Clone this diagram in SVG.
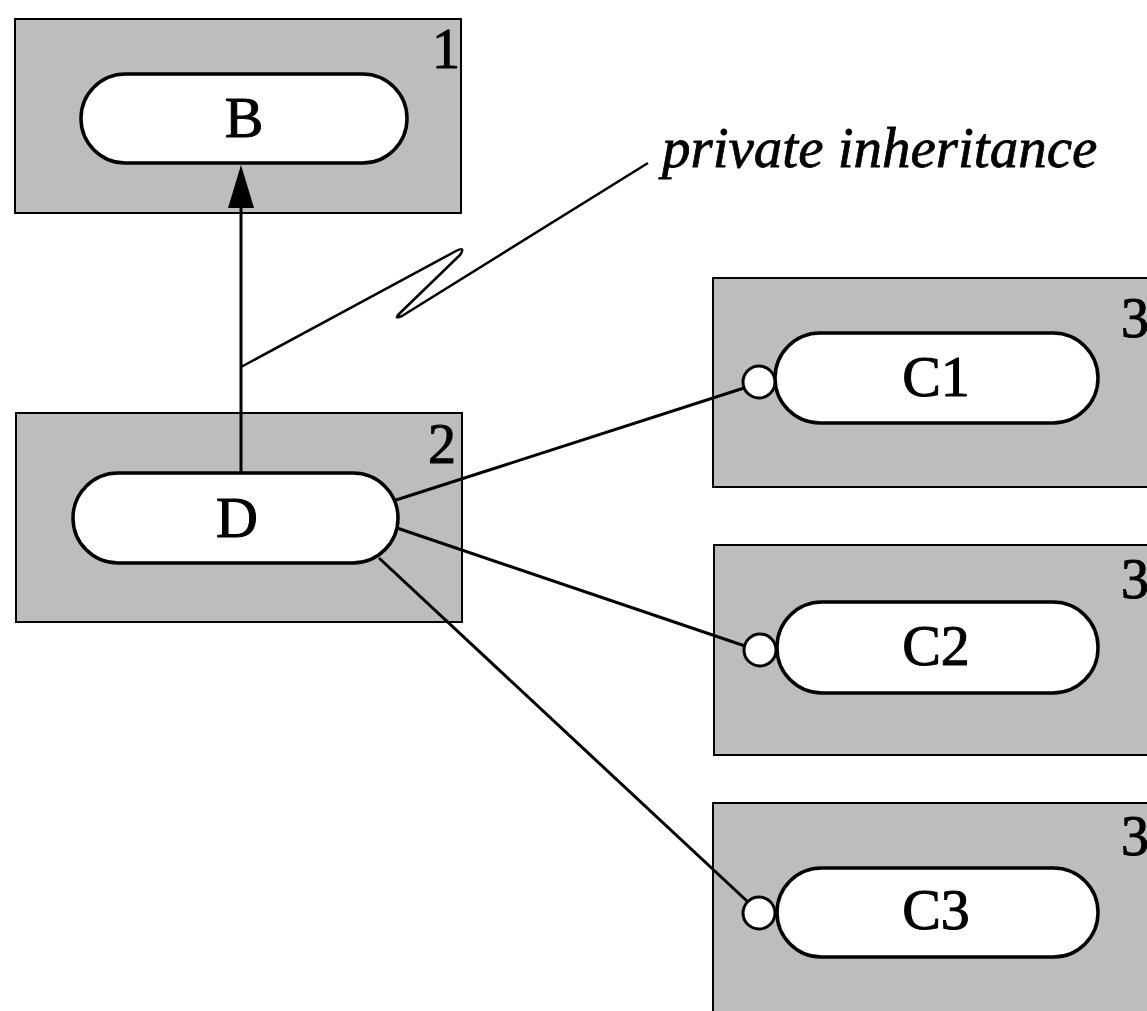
<svg xmlns="http://www.w3.org/2000/svg" width="1147" height="1011" viewBox="0 0 1147 1011">
<style>
.box{fill:#bdbdbd;stroke:#000;stroke-width:2}
.pill{fill:#fff;stroke:#000;stroke-width:3.5}
.port{fill:#fff;stroke:#000;stroke-width:3}
.lbl{font-family:"Liberation Serif",serif;font-size:58px;fill:#000;stroke:#000;stroke-width:1;text-anchor:middle}
.num{font-family:"Liberation Serif",serif;font-size:56px;fill:#000;stroke:#000;stroke-width:1}
.conn{fill:none;stroke:#000;stroke-width:3}
.note{fill:none;stroke:#000;stroke-width:2.5;stroke-linejoin:round}
.ital{font-family:"Liberation Serif",serif;font-style:italic;font-size:57px;fill:#000;stroke:#000;stroke-width:0.8}
</style>
<rect width="1147" height="1011" fill="#fff"/>
<g id="node-B">
<rect class="box" x="15" y="19" width="446" height="194"/>
<text class="num" x="432" y="68">1</text>
<rect class="pill" x="81" y="74" width="326" height="89" rx="44.5"/>
<text class="lbl" x="244" y="137">B</text>
</g>
<g id="node-D">
<rect class="box" x="16" y="413" width="446" height="209"/>
<text class="num" x="428" y="463">2</text>
<rect class="pill" x="73" y="473" width="325" height="90" rx="45"/>
<text class="lbl" x="237" y="537">D</text>
</g>
<g id="node-C1">
<rect class="box" x="713" y="278" width="450" height="209"/>
<text class="num" x="1121" y="337">3</text>
<rect class="pill" x="775" y="333" width="323" height="90" rx="45"/>
<circle class="port" cx="759" cy="382" r="16"/>
<text class="lbl" x="936" y="396">C1</text>
</g>
<g id="node-C2">
<rect class="box" x="714" y="545" width="450" height="210"/>
<text class="num" x="1121" y="598">3</text>
<rect class="pill" x="777" y="602" width="321" height="91" rx="45"/>
<circle class="port" cx="760" cy="650" r="16"/>
<text class="lbl" x="936" y="665">C2</text>
</g>
<g id="node-C3">
<rect class="box" x="713" y="803" width="450" height="220"/>
<text class="num" x="1121" y="855">3</text>
<rect class="pill" x="777" y="868" width="321" height="89" rx="44.5"/>
<circle class="port" cx="759" cy="913" r="16"/>
<text class="lbl" x="936" y="929">C3</text>
</g>
<g id="connectors">
<line class="conn" x1="241" y1="473" x2="241" y2="205"/>
<polygon points="241,165 228,208 254,208" fill="#000"/>
<line class="conn" x1="396" y1="500" x2="744" y2="388"/>
<line class="conn" x1="397" y1="528" x2="745" y2="646"/>
<line class="conn" x1="379" y1="558" x2="748" y2="902"/>
<path class="note" d="M241,367 L456,251 Q466,246 460,255 L400,313 Q393,320 402,316 L648,163"/>
</g>
<text class="ital" x="662" y="167">private inheritance</text>
</svg>
